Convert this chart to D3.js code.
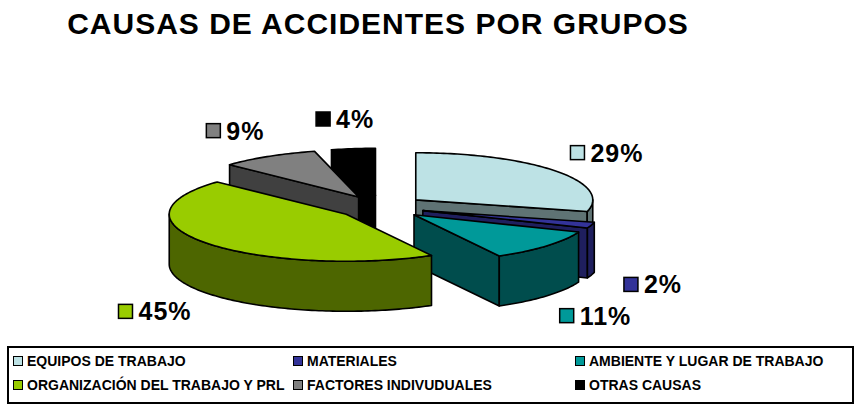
<!DOCTYPE html>
<html>
<head>
<meta charset="utf-8">
<script src="https://cdn.jsdelivr.net/npm/d3@7"></script>
<style>
  body { margin: 0; background: #fff; }
  svg { display: block; font-family: Arial, "Liberation Sans", sans-serif; }
</style>
</head>
<body>
<svg id="chart" width="857" height="412"></svg>
<script>
// data
const categories = [
  "EQUIPOS DE TRABAJO",
  "MATERIALES",
  "AMBIENTE Y LUGAR DE TRABAJO",
  "ORGANIZACIÓN DEL TRABAJO Y PRL",
  "FACTORES INDIVUDUALES",
  "OTRAS CAUSAS"
];
const values = [29, 2, 11, 45, 9, 4];
const topColors = ["#BDE2E5", "#333399", "#009999", "#99CC00", "#808080", "#000000"];
const sideColors = ["#5F7374", "#1F1F5E", "#004D4D", "#4D6600", "#404040", "#000000"];

const svg = d3.select("#chart");

// title
svg.append("text")
  .attr("x", 378)
  .attr("y", 34)
  .attr("text-anchor", "middle")
  .style("font-size", "30px")
  .style("font-weight", "bold")
  .style("letter-spacing", "1px")
  .text("CAUSAS DE ACCIDENTES POR GRUPOS");

// 3d pie geometry
const cx = 381, cy = 207;
const R = 177, tilt = 0.266, depth = 50, explode = 44;
const total = d3.sum(values);
const pct = d3.format(".0%");

const pie = d3.pie().sort(null).value((d) => d);
const slices = pie(values).map((s, i) => {
  const mid = (s.startAngle + s.endAngle) / 2;
  const ox = cx + explode * Math.sin(mid);
  const oy = cy - explode * Math.cos(mid) * tilt;
  // how far toward the viewer the slice reaches, used for draw order
  let front = -explode * Math.cos(mid);
  d3.range(s.startAngle, s.endAngle, 0.01).concat([s.endAngle]).forEach((a) => {
    front = Math.max(front, -explode * Math.cos(mid) - R * Math.cos(a));
  });
  return { i, s, mid, ox, oy, front };
});

function rim(sl, a, h) {
  return [sl.ox + R * Math.sin(a), sl.oy - R * Math.cos(a) * tilt + h];
}
function arcPts(sl, a0, a1, h) {
  const n = Math.max(2, Math.ceil(Math.abs(a1 - a0) / 0.02));
  return d3.range(n + 1).map((j) => rim(sl, a0 + (a1 - a0) * j / n, h));
}
const line = d3.line().curve(d3.curveLinear);

const g = svg.append("g");
slices.slice().sort((a, b) => a.front - b.front).forEach((sl) => {
  const a0 = sl.s.startAngle, a1 = sl.s.endAngle;
  const apexTop = [sl.ox, sl.oy], apexBot = [sl.ox, sl.oy + depth];
  const side = sideColors[sl.i];
  const drawPoly = (pts, fill) => g.append("path")
    .attr("d", line(pts) + "Z")
    .attr("fill", fill)
    .attr("stroke", "#000")
    .attr("stroke-width", 1.6)
    .attr("stroke-linejoin", "round");

  // radial walls facing the viewer
  if (Math.sin(a0) < -1e-6) {
    drawPoly([apexTop, rim(sl, a0, 0), rim(sl, a0, depth), apexBot], side);
  }
  if (Math.sin(a1) > 1e-6) {
    drawPoly([apexTop, rim(sl, a1, 0), rim(sl, a1, depth), apexBot], side);
  }
  // outer wall, front half only
  const f0 = Math.max(a0, Math.PI / 2), f1 = Math.min(a1, Math.PI * 1.5);
  if (f1 > f0) {
    drawPoly(arcPts(sl, f0, f1, 0).concat(arcPts(sl, f1, f0, depth)), side);
  }
  // top face
  drawPoly([apexTop].concat(arcPts(sl, a0, a1, 0)), topColors[sl.i]);
});

// percentage labels with keys
const labR = 242, labr = 77;
slices.forEach((sl) => {
  const c = Math.cos(sl.mid);
  const lx = sl.ox + labR * Math.sin(sl.mid);
  const ly = sl.oy - labr * c * 1 + (c < 0 ? depth : 0) - (c < 0 ? 0 : 0);
  const lg = svg.append("g");
  const t = lg.append("text")
    .style("font-size", "25px")
    .style("font-weight", "bold")
    .style("letter-spacing", "1px")
    .text(pct(values[sl.i] / total));
  const tw = t.node().getComputedTextLength();
  const w = 14 + 6 + tw;
  const x0 = lx - w / 2;
  lg.append("rect")
    .attr("x", x0).attr("y", ly - 7)
    .attr("width", 14).attr("height", 14)
    .attr("fill", topColors[sl.i])
    .attr("stroke", "#000").attr("stroke-width", 1.5);
  t.attr("x", x0 + 20).attr("y", ly + 9);
});

// legend
svg.append("rect")
  .attr("x", 8).attr("y", 347)
  .attr("width", 845).attr("height", 56)
  .attr("fill", "#fff")
  .attr("stroke", "#000").attr("stroke-width", 2);

const colX = d3.scaleOrdinal().domain([0, 1, 2]).range([13, 293, 575]);
const rowY = d3.scaleOrdinal().domain([0, 1]).range([366, 390]);
categories.forEach((name, i) => {
  const x = colX(i % 3), y = rowY(Math.floor(i / 3));
  svg.append("rect")
    .attr("x", x + 0.5).attr("y", y - 9.5)
    .attr("width", 9).attr("height", 9)
    .attr("fill", topColors[i])
    .attr("stroke", "#000").attr("stroke-width", 1);
  svg.append("text")
    .attr("x", x + 14).attr("y", y)
    .style("font-size", "14px")
    .style("font-weight", "bold")
    .text(name);
});
</script>
</body>
</html>
